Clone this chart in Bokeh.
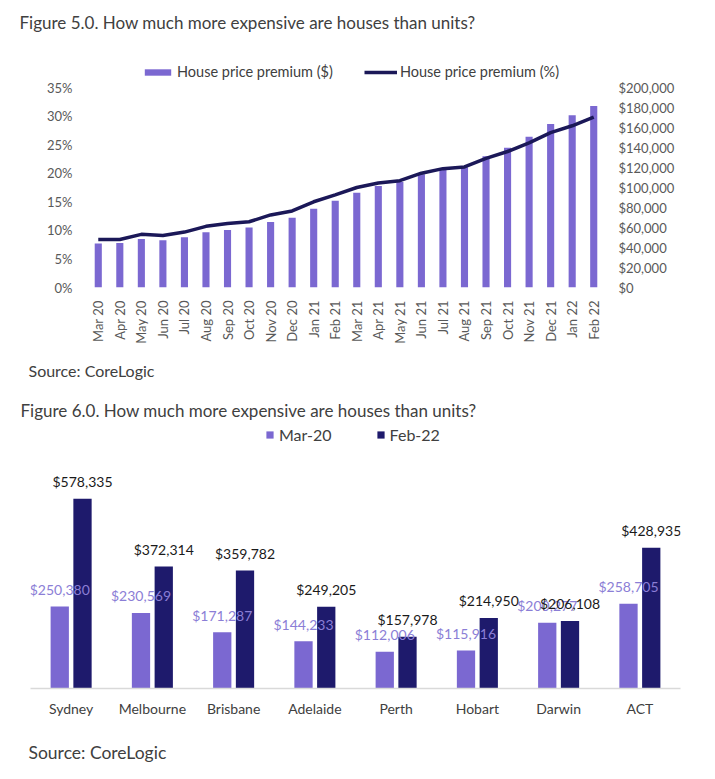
from bokeh.plotting import figure
from bokeh.models import (Range1d, LinearAxis, FactorRange, Legend, LegendItem, Label,
                          NumeralTickFormatter, FixedTicker, ColumnDataSource)
from bokeh.transform import dodge
from bokeh.core.properties import value
from bokeh.embed import file_html
from bokeh.resources import INLINE
import math

FONT = "Lato"
W = 715

# ---------------- Figure 5.0 data ----------------
months = ["Mar 20", "Apr 20", "May 20", "Jun 20", "Jul 20", "Aug 20", "Sep 20", "Oct 20",
          "Nov 20", "Dec 20", "Jan 21", "Feb 21", "Mar 21", "Apr 21", "May 21", "Jun 21",
          "Jul 21", "Aug 21", "Sep 21", "Oct 21", "Nov 21", "Dec 21", "Jan 22", "Feb 22"]
premium_usd = [43900, 44500, 48500, 47200, 50200, 55300, 57600, 59900, 65600, 69700,
               78700, 86800, 94800, 101500, 105500, 113200, 118300, 120300, 131300,
               139700, 150800, 163500, 172200, 181600]
premium_pct = [8.4, 8.4, 9.3, 9.1, 9.7, 10.7, 11.2, 11.5, 12.7, 13.4, 15.0, 16.2, 17.5,
               18.3, 18.7, 20.0, 20.8, 21.1, 22.6, 23.8, 25.3, 27.1, 28.3, 29.8]
pct_ticks = [0, 5, 10, 15, 20, 25, 30, 35]
pct_labels = ["0%", "5%", "10%", "15%", "20%", "25%", "30%", "35%"]
usd_ticks = [0, 20000, 40000, 60000, 80000, 100000, 120000, 140000, 160000, 180000, 200000]

# ---------------- Figure 6.0 data ----------------
cities = ["Sydney", "Melbourne", "Brisbane", "Adelaide", "Perth", "Hobart", "Darwin", "ACT"]
mar20 = [250380, 230569, 171287, 144233, 112006, 115916, 200277, 258705]
feb22 = [578335, 372314, 359782, 249205, 157978, 214950, 206108, 428935]

PURPLE = "#7B68D1"
NAVY = "#1E1A6C"
LINE = "#1B1858"
LIGHT_TXT = "#8B7ED6"
GREY = "#404040"
AXGREY = "#595959"


def text_fig(height, items):
    f = figure(width=W, height=height, x_range=Range1d(0, 1), y_range=Range1d(0, 1),
               output_backend="svg", toolbar_location=None,
               x_axis_location=None, y_axis_location=None, min_border=0)
    f.outline_line_color = None
    f.grid.visible = False
    for (x, y, txt, size) in items:
        f.add_layout(Label(x=x, y=y, x_units="screen", y_units="screen", text=txt,
                           text_font=FONT, text_font_size=size, text_color=GREY,
                           text_baseline="middle"))
    return f


# ---- title 1 (page y 0-45) ----
t1 = text_fig(45, [(19, 23, "Figure 5.0. How much more expensive are houses than units?", "17px")])

# ================= Top chart (page y 45-350) =================
p1 = figure(width=W, height=305, x_range=FactorRange(*months), y_range=Range1d(0, 40.25),
            output_backend="svg", toolbar_location=None,
            min_border_left=87, min_border_right=111, min_border_top=12, min_border_bottom=63)
p1.extra_y_ranges = {"usd": Range1d(0, 230000)}
p1.outline_line_color = None
p1.xgrid.grid_line_color = None
p1.ygrid.grid_line_color = None

bars = p1.vbar(x=months, top=premium_usd, width=0.33, y_range_name="usd",
               fill_color=PURPLE, line_color=None)
ln = p1.line(x=months, y=premium_pct, line_width=3.5, line_color=LINE)

lax = p1.yaxis[0]
lax.ticker = FixedTicker(ticks=pct_ticks)
lax.major_label_overrides = {t: l for t, l in zip(pct_ticks, pct_labels)}
rax = LinearAxis(y_range_name="usd", ticker=FixedTicker(ticks=usd_ticks),
                 formatter=NumeralTickFormatter(format="$0,0"))
p1.add_layout(rax, "right")

for ax in [lax, rax]:
    ax.axis_line_color = None
    ax.major_tick_line_color = None
    ax.minor_tick_line_color = None
    ax.major_label_text_font = FONT
    ax.major_label_text_font_size = "13px"
    ax.major_label_text_color = AXGREY
lax.major_label_standoff = 9
rax.major_label_standoff = 8

xa = p1.xaxis[0]
xa.axis_line_color = None
xa.major_tick_line_color = None
xa.major_label_orientation = math.pi / 2
xa.major_label_text_font = FONT
xa.major_label_text_font_size = "13px"
xa.major_label_text_color = AXGREY
xa.major_label_standoff = 7

leg1 = Legend(items=[LegendItem(label="House price premium ($)", renderers=[bars]),
                     LegendItem(label="House price premium (%)", renderers=[ln])],
              orientation="horizontal", location=(54, 207), glyph_width=33, glyph_height=8,
              label_standoff=3, spacing=31, padding=0, margin=0, border_line_color=None,
              background_fill_alpha=0, label_text_font=FONT, label_text_font_size="14.5px",
              label_text_color=GREY, label_height=14)
p1.add_layout(leg1, "center")

# ---- source 1 + title 2 (page y 350-422) ----
mid = text_fig(72, [(28, 52, "Source: CoreLogic", "16px"),
                    (20, 12, "Figure 6.0. How much more expensive are houses than units?", "17px")])

# ================= Bottom chart (page y 422-740) =================
src = ColumnDataSource(dict(city=cities, mar=mar20, feb=feb22,
                            mar_lbl=["${:,}".format(v) for v in mar20],
                            feb_lbl=["${:,}".format(v) for v in feb22]))

p2 = figure(width=W, height=318, x_range=FactorRange(*cities), y_range=Range1d(0, 811000),
            output_backend="svg", toolbar_location=None, y_axis_location=None,
            min_border_left=30, min_border_right=35, min_border_top=0, min_border_bottom=52)
p2.outline_line_color = None
p2.xgrid.grid_line_color = None
p2.ygrid.grid_line_color = None

b_mar = p2.vbar(x=dodge("city", -0.14, range=p2.x_range), top="mar", width=0.225, source=src,
                fill_color=PURPLE, line_color=None)
b_feb = p2.vbar(x=dodge("city", 0.14, range=p2.x_range), top="feb", width=0.225, source=src,
                fill_color=NAVY, line_color=None)
p2.text(x=dodge("city", -0.14, range=p2.x_range), y="mar", text="mar_lbl", source=src,
        y_offset=-17, text_align="center", text_baseline="middle", text_font=value(FONT),
        text_font_size="14px", text_color=LIGHT_TXT)
p2.text(x=dodge("city", 0.14, range=p2.x_range), y="feb", text="feb_lbl", source=src,
        y_offset=-17, text_align="center", text_baseline="middle", text_font=value(FONT),
        text_font_size="14px", text_color="#1A1A1A")

xb = p2.xaxis[0]
xb.axis_line_color = "#D9D9D9"
xb.axis_line_width = 1.5
xb.major_tick_line_color = None
xb.minor_tick_line_color = None
xb.major_label_text_font = FONT
xb.major_label_text_font_size = "14px"
xb.major_label_text_color = GREY
xb.major_label_standoff = 5

leg2 = Legend(items=[LegendItem(label="Mar-20", renderers=[b_mar]),
                     LegendItem(label="Feb-22", renderers=[b_feb])],
              orientation="horizontal", location=(235, 244), glyph_width=9, glyph_height=9,
              label_standoff=5, spacing=44, padding=0, margin=0, border_line_color=None,
              background_fill_alpha=0, label_text_font=FONT, label_text_font_size="16px",
              label_text_color=GREY, label_height=18)
p2.add_layout(leg2, "center")

# ---- source 2 (page y 740-779) ----
s2 = text_fig(39, [(28, 27, "Source: CoreLogic", "17.5px")])

open("out.html", "w").write(file_html([t1, p1, mid, p2, s2], INLINE))
